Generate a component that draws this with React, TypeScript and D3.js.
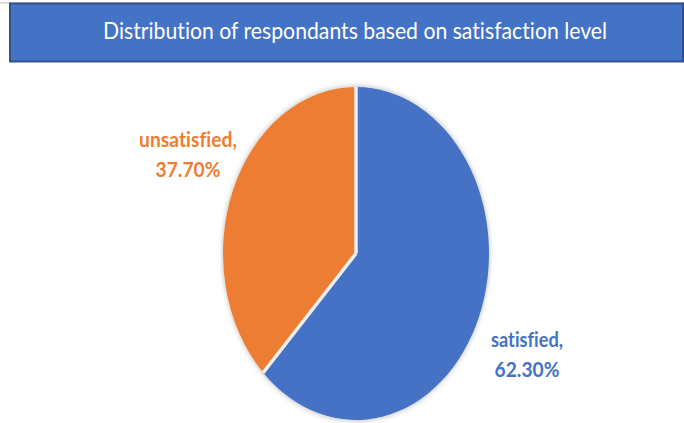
import React from "react";
import * as d3 from "d3";

const categories = ["satisfied", "unsatisfied"];
const values = [62.3, 37.7];
const valueLabels = ["62.30%", "37.70%"];
const colors = ["#4472C4", "#ED7D31"];
const title = "Distribution of respondants based on satisfaction level";

const W = 684;
const H = 423;

export default function App() {
  const cx = 356;
  const cy = 253.5;
  const rx = 133;
  const ry = 166.5;
  const r = ry;
  const pie = d3
    .pie<number>()
    .sort(null)
    .startAngle(0)
    .endAngle(2 * Math.PI)
    .value((d) => d);
  const arcs = pie(values);
  const arc = d3.arc<d3.PieArcDatum<number>>().innerRadius(0).outerRadius(r);

  const labelPos = [
    { x: 527, y1: 347, y2: 377, w1: 72, w2: 65 },
    { x: 188, y1: 147, y2: 177, w1: 98, w2: 65 },
  ];

  return (
    <svg
      width={W}
      height={H}
      style={{ position: "absolute", left: 0, top: 0, background: "#fff", fontVariantLigatures: "none" }}
      fontFamily="Lato, 'Open Sans', sans-serif"
    >
      <defs>
        <filter id="sh" x="-20%" y="-20%" width="140%" height="140%">
          <feDropShadow dx="0" dy="0" stdDeviation="3" floodColor="#000" floodOpacity="0.3" />
        </filter>
      </defs>
      <rect x={0} y={2} width={W} height={1.5} fill="#d0d0d0" />
      <rect x={10} y={3.5} width={673} height={58} fill="#4472C4" stroke="#2F528F" strokeWidth={2} />
      <text
        x={355}
        y={39}
        textAnchor="middle"
        fill="#fff"
        fontSize={24}
        textLength={504}
        lengthAdjust="spacingAndGlyphs"
      >
        {title}
      </text>
      <g transform={`translate(${cx},${cy}) scale(${rx / r},1)`}>
        <g filter="url(#sh)">
          {arcs.map((a, i) => (
            <path key={categories[i]} d={arc(a) || ""} fill={colors[i]} />
          ))}
        </g>
        {arcs.map((a) => (
          <line
            key={"sep" + a.index}
            x1={0}
            y1={0}
            x2={r * Math.sin(a.startAngle)}
            y2={-r * Math.cos(a.startAngle)}
            stroke="#f0f0f0"
            strokeWidth={3.5}
            vectorEffect="non-scaling-stroke"
            strokeLinecap="butt"
          />
        ))}
      </g>
      {categories.map((c, i) => {
        const p = labelPos[i];
        return (
          <g key={c} fill={colors[i]} fontWeight="bold" fontSize={21} textAnchor="middle">
            <text x={p.x} y={p.y1} textLength={p.w1} lengthAdjust="spacingAndGlyphs">
              {c + ","}
            </text>
            <text x={p.x} y={p.y2} textLength={p.w2} lengthAdjust="spacingAndGlyphs">
              {valueLabels[i]}
            </text>
          </g>
        );
      })}
    </svg>
  );
}
